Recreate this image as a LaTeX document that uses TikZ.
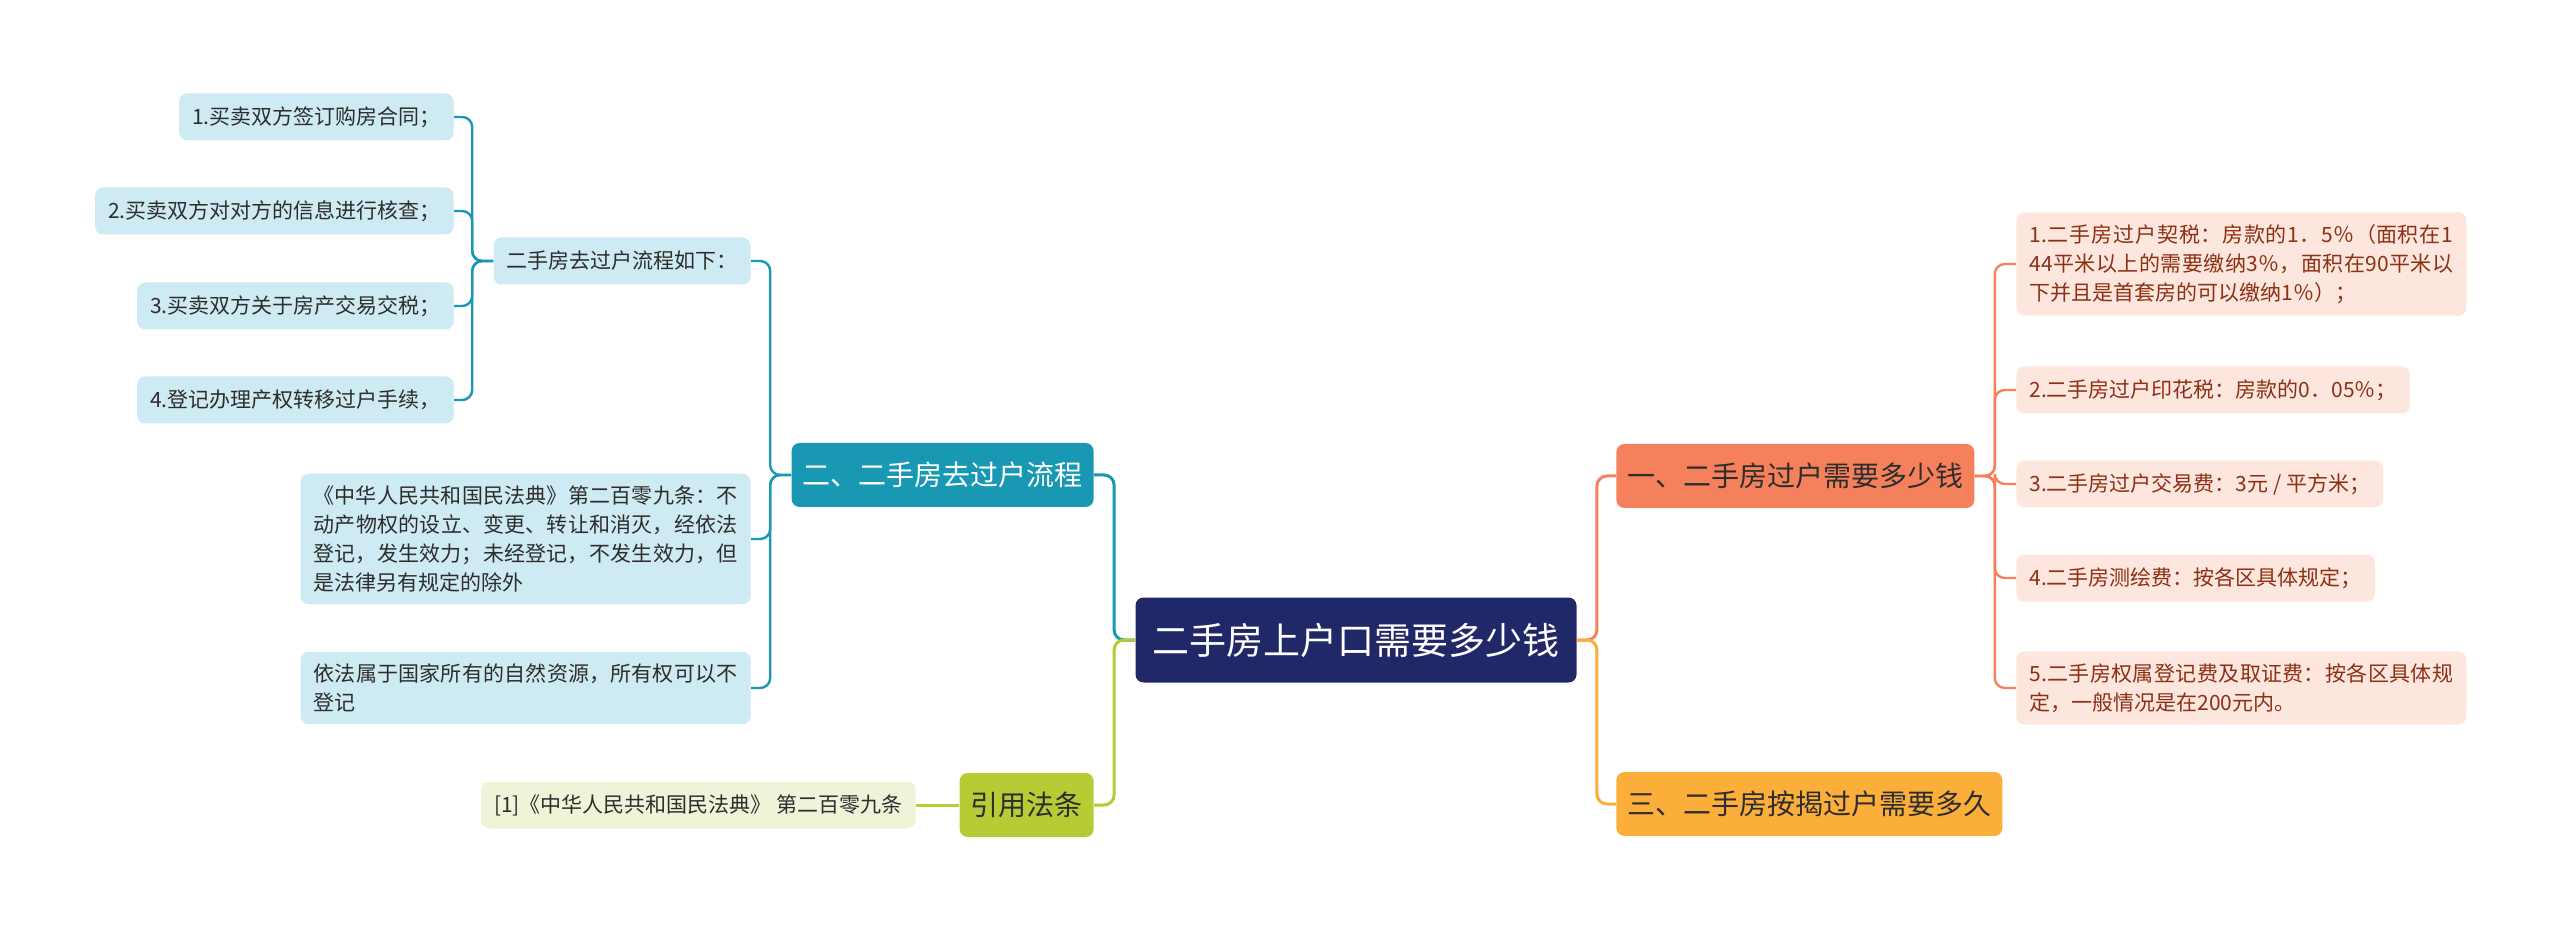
\documentclass[tikz,border=0pt]{standalone}
\usepackage{fontspec}
\setmainfont{Noto Sans CJK SC}
\XeTeXlinebreaklocale "zh"
\XeTeXlinebreakskip=0pt plus 1.5pt
\definecolor{navy}{RGB}{33,40,104}
\definecolor{teal2}{RGB}{24,152,178}
\definecolor{ice}{RGB}{206,234,242}
\definecolor{lime2}{RGB}{183,203,52}
\definecolor{cream}{RGB}{241,243,216}
\definecolor{coral2}{RGB}{245,129,92}
\definecolor{amber2}{RGB}{252,174,58}
\definecolor{peach}{RGB}{253,230,221}
\definecolor{rust}{RGB}{140,48,20}
\definecolor{ink}{RGB}{45,45,45}

\begin{document}
\begin{tikzpicture}[x=0.5pt, y=-0.5pt,
	box/.style = {rounded corners=4pt, inner ysep=0pt},
	root/.style = {box, fill=navy, text=white, font=\fontsize{18.5}{22}\selectfont, minimum height=42.5pt, inner xsep=8.5pt},
	topic/.style = {box, text=ink, font=\fontsize{14}{17}\selectfont, minimum height=32pt, inner xsep=5.5pt},
	leaf/.style = {box, font=\fontsize{10.5}{14.5}\selectfont, minimum height=23.5pt, inner xsep=6.5pt},
	para/.style = {leaf, text width=212pt, align=justify, inner ysep=6pt},
	lblue/.style = {leaf, fill=ice, text=ink, anchor=east},
	rpeach/.style = {leaf, fill=peach, text=rust, anchor=west},
	branch/.style = {line width=1.5pt, rounded corners=5pt},
	twig/.style = {line width=1.2pt, rounded corners=5pt},
	elbowl/.style = {to path={-- ++(-21,0) |- (\tikztotarget)}},
	elbowr/.style = {to path={-- ++(20,0) |- (\tikztotarget)}}]

	\useasboundingbox (0,0) rectangle (2560,930);

	\node[root] (0) at (1356,640) {二手房上户口需要多少钱};

	\node[topic, fill=teal2, text=white, anchor=east] (2) at (1094,475) {二、二手房去过户流程};
	\node[topic, fill=lime2, anchor=east] (4) at (1094,805) {引用法条};
	\node[topic, fill=coral2, anchor=west] (1) at (1616,476) {一、二手房过户需要多少钱};
	\node[topic, fill=amber2, anchor=west] (3) at (1616,804) {三、二手房按揭过户需要多久};

	\node[lblue] (21) at (751,261) {二手房去过户流程如下：};
	\node[lblue] (211) at (454,117) {1.买卖双方签订购房合同；};
	\node[lblue] (212) at (454,211) {2.买卖双方对对方的信息进行核查；};
	\node[lblue] (213) at (454,306) {3.买卖双方关于房产交易交税；};
	\node[lblue] (214) at (454,400) {4.登记办理产权转移过户手续，};
	\node[lblue, para] (22) at (751,539) {《中华人民共和国民法典》第二百零九条：不\linebreak 动产物权的设立、变更、转让和消灭，经依法\linebreak 登记，发生效力；未经登记，不发生效力，但\linebreak 是法律另有规定的除外};
	\node[lblue, para] (23) at (751,688) {依法属于国家所有的自然资源，所有权可以不\linebreak 登记};
	\node[leaf, fill=cream, text=ink, anchor=east] (41) at (916,805) {[1]《中华人民共和国民法典》 第二百零九条};

	\node[rpeach, para] (11) at (2016,264) {1.二手房过户契税：房款的1．5％（面积在1\linebreak 44平米以上的需要缴纳3％，面积在90平米以\linebreak 下并且是首套房的可以缴纳1％）；};
	\node[rpeach] (12) at (2016,390) {2.二手房过户印花税：房款的0．05％；};
	\node[rpeach] (13) at (2016,484) {3.二手房过户交易费：3元 / 平方米；};
	\node[rpeach] (14) at (2016,578) {4.二手房测绘费：按各区具体规定；};
	\node[rpeach, para] (15) at (2016,688) {5.二手房权属登记费及取证费：按各区具体规\linebreak 定，一般情况是在200元内。};

	\path[branch, draw=teal2]
	(0.west) edge[elbowl] (2.east);
	\path[branch, draw=lime2]
	(0.west) edge[elbowl] (4.east)
	(4.west) edge (41.east);
	\path[branch, draw=coral2]
	(0.east) edge[elbowr] (1.west);
	\path[branch, draw=amber2]
	(0.east) edge[elbowr] (3.west);

	\path[twig, draw=teal2]
	(2.west) edge[elbowl] (21.east)
	(2.west) edge[elbowl] (22.east)
	(2.west) edge[elbowl] (23.east)
	(21.west) edge[elbowl] (211.east)
	(21.west) edge[elbowl] (212.east)
	(21.west) edge[elbowl] (213.east)
	(21.west) edge[elbowl] (214.east);

	\path[twig, draw=coral2]
	(1.east) edge[elbowr] (11.west)
	(1.east) edge[elbowr] (12.west)
	(1.east) edge[elbowr] (13.west)
	(1.east) edge[elbowr] (14.west)
	(1.east) edge[elbowr] (15.west);

\end{tikzpicture}
\end{document}
